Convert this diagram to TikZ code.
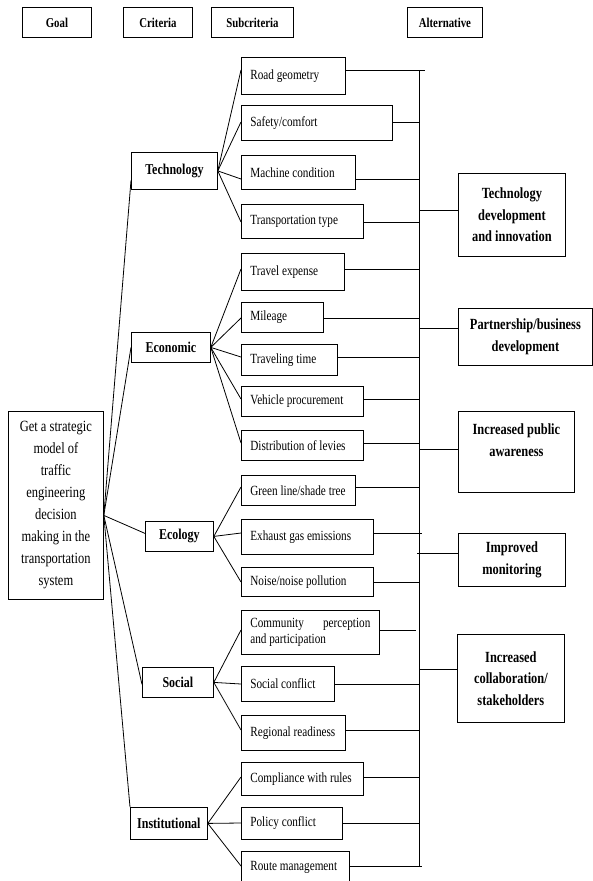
\documentclass[tikz,border=0pt]{standalone}
\usepackage{fontspec}
\setmainfont{Liberation Serif}[FakeStretch=0.8]
\begin{document}
\begin{tikzpicture}[x=1pt,y=-1pt,line width=0.8pt,
  box/.style={draw,line width=0.8pt,anchor=north west,inner sep=0pt,align=center},
  hdr/.style={box,font=\fontsize{13.5}{16}\selectfont\bfseries},
  crit/.style={box,font=\fontsize{15}{18}\selectfont\bfseries},
  sub/.style={draw,line width=0.8pt,anchor=north west,inner xsep=9pt,inner ysep=0pt,align=flush left,font=\fontsize{14}{16}\selectfont},
  alt/.style={box,font=\fontsize{15.5}{21.5}\selectfont\bfseries},
  goalbox/.style={box,font=\fontsize{15.6}{22}\selectfont}]
\clip (0,0) rectangle (593,881);
% headers
\node[hdr,minimum width=69pt,minimum height=30pt] (hg) at (22,7) {Goal};
\node[hdr,minimum width=69pt,minimum height=30pt] (hc) at (123,7) {Criteria};
\node[hdr,minimum width=82pt,minimum height=30pt] (hs) at (211,7) {Subcriteria};
\node[hdr,minimum width=75pt,minimum height=30pt] (ha) at (407,7) {Alternative};
% goal
\node[goalbox,minimum width=95pt,minimum height=188pt] (goal) at (8,411) {Get a strategic\\model of\\traffic\\engineering\\decision\\making in the\\transportation\\system};
% criteria
\node[crit,minimum width=86pt,minimum height=37pt] (tech) at (131,152) {Technology};
\node[crit,minimum width=79pt,minimum height=30pt] (econ) at (131,332) {Economic};
\node[crit,minimum width=68pt,minimum height=30pt] (eco) at (145,521) {Ecology};
\node[crit,minimum width=71pt,minimum height=30pt] (soc) at (142,667) {Social};
\node[crit,minimum width=77pt,minimum height=32pt] (inst) at (130,807) {Institutional};
% subcriteria
\node[sub,text width=86pt,minimum height=37pt] (s1) at (241,57) {\mbox{Road geometry}};
\node[sub,text width=133pt,minimum height=35pt] (s2) at (241,105) {\mbox{Safety/comfort}};
\node[sub,text width=96pt,minimum height=34pt] (s3) at (241,155) {\mbox{Machine condition}};
\node[sub,text width=104pt,minimum height=34pt] (s4) at (241,204) {\mbox{Transportation type}};
\node[sub,text width=85pt,minimum height=37pt] (s5) at (241,253) {\mbox{Travel expense}};
\node[sub,text width=64pt,minimum height=30pt] (s6) at (241,302) {\mbox{Mileage}};
\node[sub,text width=78pt,minimum height=31pt] (s7) at (241,344) {\mbox{Traveling time}};
\node[sub,text width=104pt,minimum height=30pt] (s8) at (241,386) {\mbox{Vehicle procurement}};
\node[sub,text width=104pt,minimum height=30pt] (s9) at (241,430) {\mbox{Distribution of levies}};
\node[sub,text width=96pt,minimum height=30pt] (s10) at (241,475) {\mbox{Green line/shade tree}};
\node[sub,text width=114pt,minimum height=35pt] (s11) at (241,519) {\mbox{Exhaust gas emissions}};
\node[sub,text width=114pt,minimum height=29pt] (s12) at (241,567) {\mbox{Noise/noise pollution}};
\node[sub,text width=120pt,minimum height=44pt] (s13) at (241,610) {\makebox[120pt][s]{Community\hfill\ perception}\\\mbox{and participation}};
\node[sub,text width=75pt,minimum height=35pt] (s14) at (241,666) {\mbox{Social conflict}};
\node[sub,text width=86pt,minimum height=35pt] (s15) at (241,715) {\mbox{Regional readiness}};
\node[sub,text width=104pt,minimum height=33pt] (s16) at (241,762) {\mbox{Compliance with rules}};
\node[sub,text width=83pt,minimum height=32pt] (s17) at (241,807) {\mbox{Policy conflict}};
\node[sub,text width=90pt,minimum height=32pt] (s18) at (241,851) {\mbox{Route management}};
% alternatives
\node[alt,minimum width=107pt,minimum height=83pt] (a1) at (458,173) {Technology\\development\\and innovation};
\node[alt,minimum width=134pt,minimum height=57pt] (a2) at (458,308) {Partnership/business\\development};
\node[alt,minimum width=116pt,minimum height=81pt] (a3) at (458,411) {Increased public\\awareness\\[2pt]~};
\node[alt,minimum width=107pt,minimum height=53pt] (a4) at (458,533) {Improved\\monitoring};
\node[alt,minimum width=107pt,minimum height=88pt] (a5) at (457,634) {Increased\\collaboration/\\stakeholders};
% bus coordinates
\coordinate (bustop) at (419,70);
\coordinate (busbot) at (419,866);
\coordinate (b1) at (425,70);
\coordinate (b2) at (419,122);
\coordinate (b3) at (419,179);
\coordinate (b4) at (419,222);
\coordinate (b5) at (419,269);
\coordinate (b6) at (419,318);
\coordinate (b7) at (419,357);
\coordinate (b8) at (419,399);
\coordinate (b9) at (419,443);
\coordinate (b10) at (419,487);
\coordinate (b11) at (422,533);
\coordinate (b12) at (419,582);
\coordinate (b13) at (416,630);
\coordinate (b14) at (419,684);
\coordinate (b15) at (419,730);
\coordinate (b16) at (419,777);
\coordinate (b17) at (419,823);
\coordinate (b18) at (422,866);
\coordinate (c1) at (419,210);
\coordinate (c2) at (419,328);
\coordinate (c3) at (419,449);
\coordinate (c4) at (417,553);
\coordinate (c5) at (419,669);
\coordinate (gout) at ([yshift=-10pt]goal.east);
% bus
\draw (bustop) -- (busbot);
% goal to criteria
\draw (gout) -- ([yshift=-9.5pt]tech.west);
\draw (gout) -- (econ.west);
\draw (gout) -- ([yshift=3pt]eco.west);
\draw (gout) -- ([yshift=-2pt]soc.west);
\draw (gout) -- (inst.north west);
% criteria to subcriteria
\foreach \s in {1,2,3,4} \draw (tech.east) -- (s\s.west |- b\s);
\foreach \s in {5,6,7,8,9} \draw (econ.east) -- (s\s.west |- b\s);
\foreach \s in {10,11,12} \draw (eco.east) -- (s\s.west |- b\s);
\foreach \s in {13,14,15} \draw (soc.east) -- (s\s.west |- b\s);
\foreach \s in {16,17,18} \draw (inst.east) -- (s\s.west |- b\s);
% subcriteria to bus
\foreach \s in {1,...,18} \draw (s\s.east |- b\s) -- (b\s);
% bus to alternatives
\foreach \a in {1,...,5} \draw (c\a) -- (a\a.west |- c\a);
\end{tikzpicture}
\end{document}
